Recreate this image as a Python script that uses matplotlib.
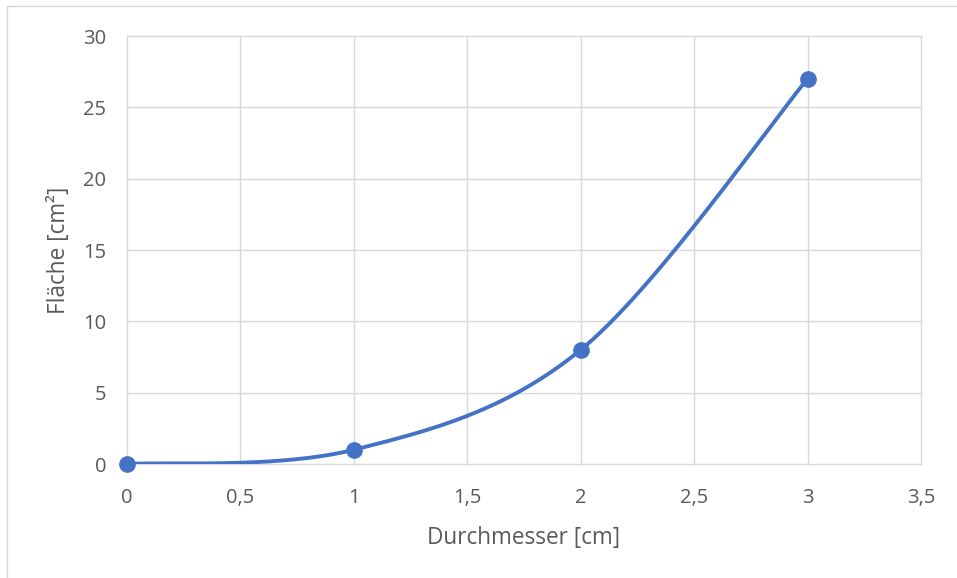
import numpy as np
import matplotlib
matplotlib.use("Agg")
import matplotlib.pyplot as plt
from matplotlib.patches import Rectangle

# data
durchmesser = [0, 1, 2, 3]
flaeche = [0, 1, 8, 27]

x_ticks = [0, 0.5, 1, 1.5, 2, 2.5, 3, 3.5]
x_labels = ["0", "0,5", "1", "1,5", "2", "2,5", "3", "3,5"]
y_ticks = [0, 5, 10, 15, 20, 25, 30]

blue = "#4472C4"
grey = "#d9d9d9"
txt = "#595959"


def smooth(xs, ys, n=60):
    # Excel-style smoothed line: cubic Bezier with control points from neighbours
    p = np.column_stack([xs, ys]).astype(float)
    ext = np.vstack([p[0], p, p[-1]])
    out = []
    t = np.linspace(0, 1, n)[:, None]
    for i in range(len(p) - 1):
        p0, p3 = ext[i + 1], ext[i + 2]
        c1 = p0 + (ext[i + 2] - ext[i]) / 6
        c2 = p3 - (ext[i + 3] - ext[i + 1]) / 6
        seg = ((1 - t) ** 3) * p0 + 3 * ((1 - t) ** 2) * t * c1 + 3 * (1 - t) * t ** 2 * c2 + t ** 3 * p3
        out.append(seg)
    out = np.vstack(out)
    return out[:, 0], out[:, 1]


plt.rcParams["font.family"] = ["Open Sans", "DejaVu Sans"]

fig = plt.figure(figsize=(9.57, 5.78), dpi=100)
fig.patches.append(Rectangle((7 / 957, -0.05), 1.0, 1.05 - 6 / 578, transform=fig.transFigure,
                             fill=False, edgecolor=grey, linewidth=1.0))

ax = fig.add_axes([127 / 957, 114 / 578, 794 / 957, 428 / 578])

sx, sy = smooth(durchmesser, flaeche)
ax.plot(sx, sy, color=blue, linewidth=2.8, solid_capstyle="round", zorder=3)
ax.plot(durchmesser, flaeche, "o", color=blue, markersize=11, zorder=4, clip_on=False)

ax.set_xlim(0, 3.5)
ax.set_ylim(0, 30)
ax.set_xticks(x_ticks)
ax.set_xticklabels(x_labels)
ax.set_yticks(y_ticks)
ax.grid(True, color=grey, linewidth=1.0)
for gl in ax.get_xgridlines() + ax.get_ygridlines():
    gl.set_clip_on(False)
ax.set_axisbelow(True)
for s in ax.spines.values():
    s.set_visible(False)
ax.tick_params(length=0, labelsize=14.5, colors=txt)
ax.tick_params(axis="x", pad=17)
ax.tick_params(axis="y", pad=15)

ax.set_xlabel("Durchmesser [cm]", fontsize=16.3, color=txt, labelpad=13)
ax.set_ylabel("Fläche [cm²]", fontsize=16.3, color=txt, labelpad=9)

fig.savefig("out.png", dpi=100)
